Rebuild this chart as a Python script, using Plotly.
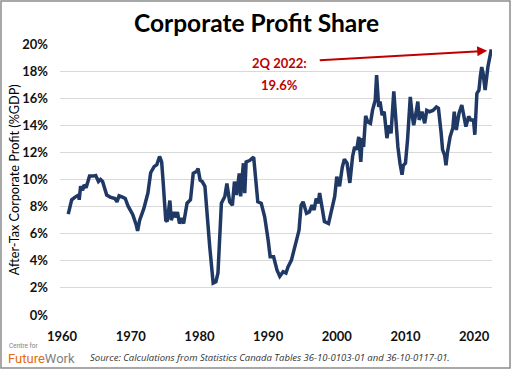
import plotly.graph_objects as go

years = [
    1960.9, 1961.4, 1961.9, 1962.4, 1962.5, 1962.7, 1963.0, 1963.2, 1963.5, 1964.0,
    1964.5, 1964.9, 1965.3, 1965.6, 1965.9, 1966.5, 1967.0, 1967.7, 1968.0, 1968.3,
    1968.8, 1969.2, 1969.6, 1970.3, 1970.8, 1971.0, 1971.3, 1971.9, 1972.5, 1972.9,
    1973.4, 1973.8, 1974.2, 1974.5, 1974.7, 1975.1, 1975.3, 1975.7, 1975.9, 1976.3,
    1976.6, 1976.8, 1977.1, 1977.4, 1977.7, 1978.2, 1978.7, 1979.1, 1979.6, 1979.8,
    1980.1, 1980.4, 1980.8, 1981.4, 1981.5, 1982.0, 1982.4, 1982.7, 1983.2, 1983.7,
    1984.0, 1984.4, 1984.8, 1985.1, 1985.4, 1985.8, 1986.0, 1986.4, 1986.6, 1986.8,
    1987.3, 1987.9, 1988.2, 1988.5, 1989.0, 1989.5, 1990.0, 1990.3, 1990.8, 1991.3,
    1991.7, 1992.2, 1992.6, 1992.9, 1993.4, 1993.9, 1994.5, 1994.8, 1995.1, 1995.6,
    1996.0, 1996.4, 1996.7, 1997.0, 1997.3, 1997.5, 1997.7, 1998.2, 1998.8, 1999.3,
    1999.7, 2000.0, 2000.4, 2000.8, 2001.1, 2001.5, 2001.9, 2002.3, 2002.6, 2002.9,
    2003.2, 2003.5, 2003.7, 2003.9, 2004.2, 2004.5, 2004.9, 2005.2, 2005.6, 2005.8,
    2006.1, 2006.3, 2006.6, 2006.9, 2007.3, 2007.6, 2007.9, 2008.3, 2008.5, 2008.9,
    2009.2, 2009.5, 2009.7, 2010.0, 2010.3, 2010.7, 2011.0, 2011.2, 2011.6, 2011.8,
    2012.0, 2012.4, 2012.8, 2013.1, 2013.5, 2014.0, 2014.5, 2014.8, 2015.2, 2015.4,
    2015.7, 2015.9, 2016.1, 2016.5, 2016.9, 2017.1, 2017.4, 2017.6, 2017.8, 2018.2,
    2018.5, 2018.8, 2019.2, 2019.5, 2019.9, 2020.1, 2020.4, 2020.7, 2020.9, 2021.1,
    2021.3, 2021.6, 2022.0, 2022.5,
]

profit_share = [
    7.45, 8.5, 8.7, 8.85, 8.5, 9.5, 9.2, 9.6, 9.4, 10.25,
    10.25, 10.3, 9.85, 10.0, 9.85, 8.85, 8.7, 8.6, 8.35, 8.8,
    8.7, 8.6, 8.05, 7.4, 6.65, 6.2, 7.0, 7.85, 9.0, 10.5,
    10.95, 11.1, 11.7, 11.3, 9.95, 7.0, 6.9, 8.45, 7.0, 7.6,
    7.2, 7.6, 6.75, 7.15, 6.75, 8.25, 8.5, 10.45, 10.6, 10.8,
    9.95, 9.85, 9.5, 5.3, 5.05, 2.35, 2.45, 3.1, 8.25, 8.75,
    9.7, 8.35, 8.1, 9.85, 8.85, 10.45, 8.75, 11.2, 9.0, 11.3,
    11.4, 11.65, 9.95, 8.35, 8.25, 7.25, 5.55, 4.3, 4.3, 3.3,
    2.85, 3.2, 3.1, 3.55, 4.05, 5.05, 6.25, 8.1, 8.35, 7.5,
    7.6, 8.1, 7.75, 8.6, 8.25, 9.0, 8.35, 6.9, 6.75, 7.75,
    8.75, 10.2, 9.5, 10.9, 11.5, 11.2, 9.75, 11.7, 12.4, 12.2,
    13.15, 11.3, 13.05, 12.4, 14.7, 14.25, 14.15, 15.1, 15.85, 17.7,
    15.35, 15.75, 14.75, 15.0, 13.05, 14.0, 13.4, 16.5, 14.9, 12.4,
    11.2, 10.35, 11.05, 11.2, 12.9, 16.1, 14.65, 14.0, 15.1, 15.75,
    14.4, 15.0, 14.15, 15.1, 15.0, 15.1, 15.35, 15.25, 13.4, 12.2,
    11.8, 11.05, 11.95, 13.15, 13.8, 15.0, 13.65, 14.5, 14.9, 15.5,
    14.75, 13.9, 14.65, 14.4, 14.4, 13.3, 16.35, 16.6, 17.6, 18.3,
    17.85, 16.6, 18.3, 19.6,
]

x_ticks = [1960, 1970, 1980, 1990, 2000, 2010, 2020]
y_ticks = [0, 2, 4, 6, 8, 10, 12, 14, 16, 18, 20]
y_tick_labels = [f"{v}%" for v in y_ticks]

title_text = "Corporate Profit Share"
y_title = "After-Tax Corporate Profit (%GDP)"
callout_line1 = "2Q 2022:"
callout_line2 = "19.6%"
source_text = "Source: Calculations from Statistics Canada Tables 36-10-0103-01 and 36-10-0117-01."

FONT = "Lato"

fig = go.Figure()
fig.add_trace(go.Scatter(
    x=years, y=profit_share, mode="lines",
    line=dict(color="#1f3864", width=3.5),
    hoverinfo="skip", showlegend=False,
))

fig.update_layout(
    width=512, height=371,
    margin=dict(l=60, r=20, t=44, b=56),
    paper_bgcolor="white", plot_bgcolor="white",
    font=dict(family=FONT, color="#000000"),
    xaxis=dict(
        range=[1959.7, 2022.6], tickvals=x_ticks, ticktext=[str(t) for t in x_ticks],
        showgrid=False, zeroline=False, showline=False, ticks="",
        tickfont=dict(family=FONT, size=13, color="#111111", weight="bold"),
        ticklabelstandoff=12,
    ),
    yaxis=dict(
        range=[0, 20], tickvals=y_ticks, ticktext=y_tick_labels,
        showgrid=True, gridcolor="#d9d9d9", gridwidth=1,
        zeroline=False, showline=False, ticks="",
        tickfont=dict(family=FONT, size=13, color="#111111", weight="bold"),
        ticklabelstandoff=11,
    ),
)

annotations = [
    dict(text=f"<b>{title_text}</b>", xref="paper", yref="paper",
         x=0.455, y=1.08, xanchor="center", yanchor="middle", showarrow=False,
         font=dict(family=FONT, size=24.5, color="#000000")),
    dict(text=y_title, xref="paper", yref="paper", x=-0.107, y=0.5,
         xanchor="center", yanchor="middle", textangle=-90, showarrow=False,
         font=dict(family=FONT, size=12.7, color="#000000")),
    dict(text=f"<b>{callout_line1}</b>", xref="paper", yref="paper",
         x=0.509, y=0.93, xanchor="center", yanchor="middle", showarrow=False,
         font=dict(family=FONT, size=13, color="#c00000")),
    dict(text=f"<b>{callout_line2}</b>", xref="paper", yref="paper",
         x=0.509, y=0.848, xanchor="center", yanchor="middle", showarrow=False,
         font=dict(family=FONT, size=13, color="#c00000")),
    dict(x=2021.9, y=19.5, xref="x", yref="y", ax=1997.3, ay=18.8,
         axref="x", ayref="y", text="", showarrow=True,
         arrowhead=2, arrowsize=1, arrowwidth=2, arrowcolor="#c00000"),
    dict(text=f"<i>{source_text}</i>", xref="paper", yref="paper",
         x=0.065, y=-0.157, xanchor="left", yanchor="middle", showarrow=False,
         font=dict(family="Open Sans", size=9.5, color="#333333")),
    dict(text="Centre for", xref="paper", yref="paper",
         x=-0.123, y=-0.115, xanchor="left", yanchor="middle", showarrow=False,
         font=dict(family="Roboto", size=6.5, color="#7f7f7f")),
    dict(text="<span style='color:#e46c0a'>Future</span><span style='color:#7f7f7f'>Work</span>",
         xref="paper", yref="paper",
         x=-0.125, y=-0.16, xanchor="left", yanchor="middle", showarrow=False,
         font=dict(family="Roboto", size=13, color="#7f7f7f")),
]
fig.update_layout(annotations=annotations)

fig.add_shape(type="rect", xref="paper", yref="paper",
              x0=-0.1366, x1=1.0417, y0=-0.1956, y1=1.1587,
              line=dict(color="#8c8c8c", width=1.5), fillcolor="rgba(0,0,0,0)", layer="below")

fig.write_html("out.html", config={"displayModeBar": False},
               post_script="document.body.style.margin='0';document.body.style.overflow='hidden';")
